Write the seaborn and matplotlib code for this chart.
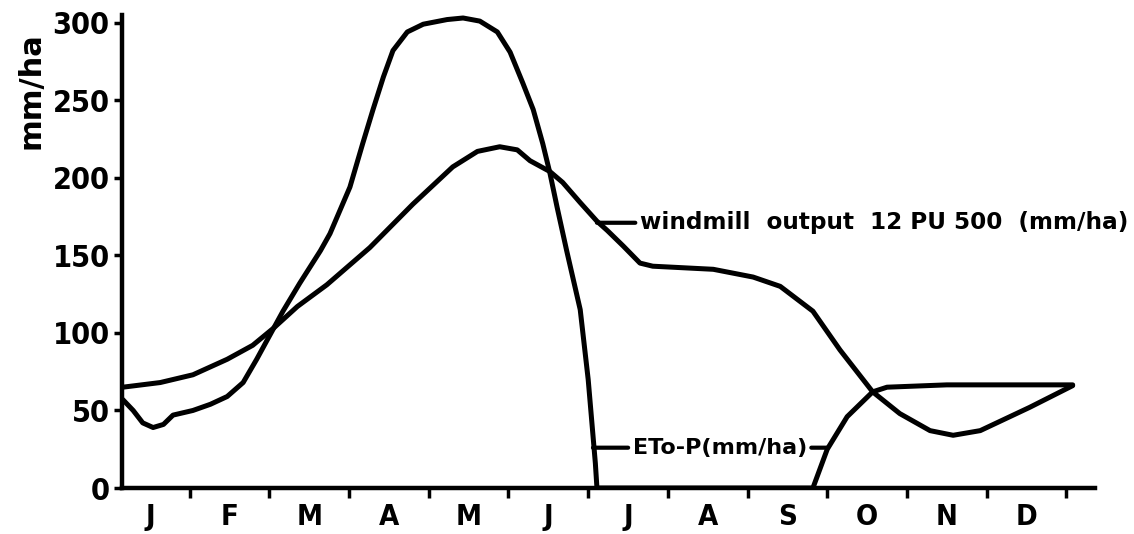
import numpy as np
import pandas as pd
import seaborn as sns
import matplotlib.pyplot as plt

# valores (x en meses desde el 1 de enero)
meses = ['J', 'F', 'M', 'A', 'M', 'J', 'J', 'A', 'S', 'O', 'N', 'D']

eto_x = [0.16, 0.29, 0.41, 0.54, 0.67, 0.79, 1.04, 1.26, 1.47, 1.67, 1.84, 2.01, 2.17, 2.38,
         2.64, 2.76, 3.01, 3.17, 3.30, 3.43, 3.55, 3.73, 3.93, 4.23, 4.43, 4.64, 4.86, 5.02,
         5.18, 5.31, 5.43, 5.52, 5.61, 5.73, 5.90, 6.00, 6.09, 6.11,
         8.82, 9.00, 9.25, 9.57, 9.75, 10.50, 12.08]
eto_y = [57, 50, 42, 39, 41, 47, 50, 54, 59, 68, 83, 99, 114, 132,
         153, 164, 194, 222, 244, 265, 282, 294, 299, 302, 303, 301, 294, 281,
         261, 244, 222, 203, 181, 153, 115, 70, 16, 0,
         0, 25, 46, 62, 65, 66.5, 66.5]

wind_x = [0.16, 0.63, 1.04, 1.47, 1.79, 2.05, 2.35, 2.72, 3.26, 3.80, 4.30, 4.61, 4.89, 5.11,
          5.27, 5.52, 5.68, 5.90, 6.11, 6.24, 6.44, 6.65, 6.81, 7.57, 8.07, 8.41, 8.82, 9.16,
          9.57, 9.91, 10.29, 10.58, 10.92, 11.54, 12.08]
wind_y = [65, 68, 73, 83, 92, 103, 117, 131, 155, 183, 207, 217, 220, 218,
          211, 204, 197, 184, 172, 166, 156, 145, 143, 141, 136, 130, 114, 89,
          62, 48, 37, 34, 37, 52, 66]

y_ticks = [0, 50, 100, 150, 200, 250, 300]

df_eto = pd.DataFrame({'mes': eto_x, 'valor': eto_y})
df_wind = pd.DataFrame({'mes': wind_x, 'valor': wind_y})

sns.set_style('white')
plt.rcParams['font.family'] = ['DejaVu Sans']
plt.rcParams['text.color'] = 'black'
plt.rcParams['axes.labelcolor'] = 'black'
plt.rcParams['xtick.color'] = 'black'
plt.rcParams['ytick.color'] = 'black'

fig = plt.figure(figsize=(11.34, 5.34), dpi=100)
ax = fig.add_axes([0.1076, 0.0861, 0.858, 0.886])

sns.lineplot(data=df_eto, x='mes', y='valor', color='black', linewidth=3.6, sort=False, ax=ax,
             solid_joinstyle='round', solid_capstyle='round')
sns.lineplot(data=df_wind, x='mes', y='valor', color='black', linewidth=3.6, sort=False, ax=ax,
             solid_joinstyle='round', solid_capstyle='round')

ax.set_xlim(0.15, 12.36)
ax.set_ylim(0, 305)
for lado in ['top', 'right']:
    ax.spines[lado].set_visible(False)
for lado in ['left', 'bottom']:
    ax.spines[lado].set_linewidth(3.2)
    ax.spines[lado].set_color('black')

# ticks en los limites de los meses, etiquetas en el centro
ax.set_xticks(np.arange(1, 13))
ax.set_xticklabels([])
ax.set_xticks(np.arange(12) + 0.5, minor=True)
ax.set_xticklabels(meses, minor=True, fontsize=21, fontweight='bold', fontstretch='condensed')
ax.tick_params(axis='x', which='major', bottom=True, direction='out', length=7, width=2.5)
ax.tick_params(axis='x', which='minor', bottom=True, length=0, pad=11)

ax.set_yticks(y_ticks)
ax.set_yticklabels([str(v) for v in y_ticks], fontsize=22, fontweight='bold', fontstretch='condensed')
ax.tick_params(axis='y', left=True, direction='out', length=6, width=2.5, pad=3)

ax.set_xlabel('')
ax.set_ylabel('mm/ha', fontsize=22, fontweight='bold')
ax.yaxis.set_label_coords(-0.079, 0.84)

# etiquetas de las curvas
flecha = dict(arrowstyle='-', color='black', lw=3, shrinkA=1, shrinkB=0)
ax.annotate('windmill  output  12 PU 500  (mm/ha)', xy=(6.11, 171), xytext=(6.65, 171),
            fontsize=16.7, fontweight='bold', ha='left', va='center', arrowprops=flecha)
ax.annotate('ETo-P(mm/ha)', xy=(6.06, 26), xytext=(6.56, 26),
            fontsize=16, fontweight='bold', ha='left', va='center', arrowprops=flecha)
ax.annotate('', xy=(9.0, 26), xytext=(8.80, 26),
            arrowprops=dict(arrowstyle='-', color='black', lw=3, shrinkA=0, shrinkB=0))

plt.savefig('out.png', dpi=100)
